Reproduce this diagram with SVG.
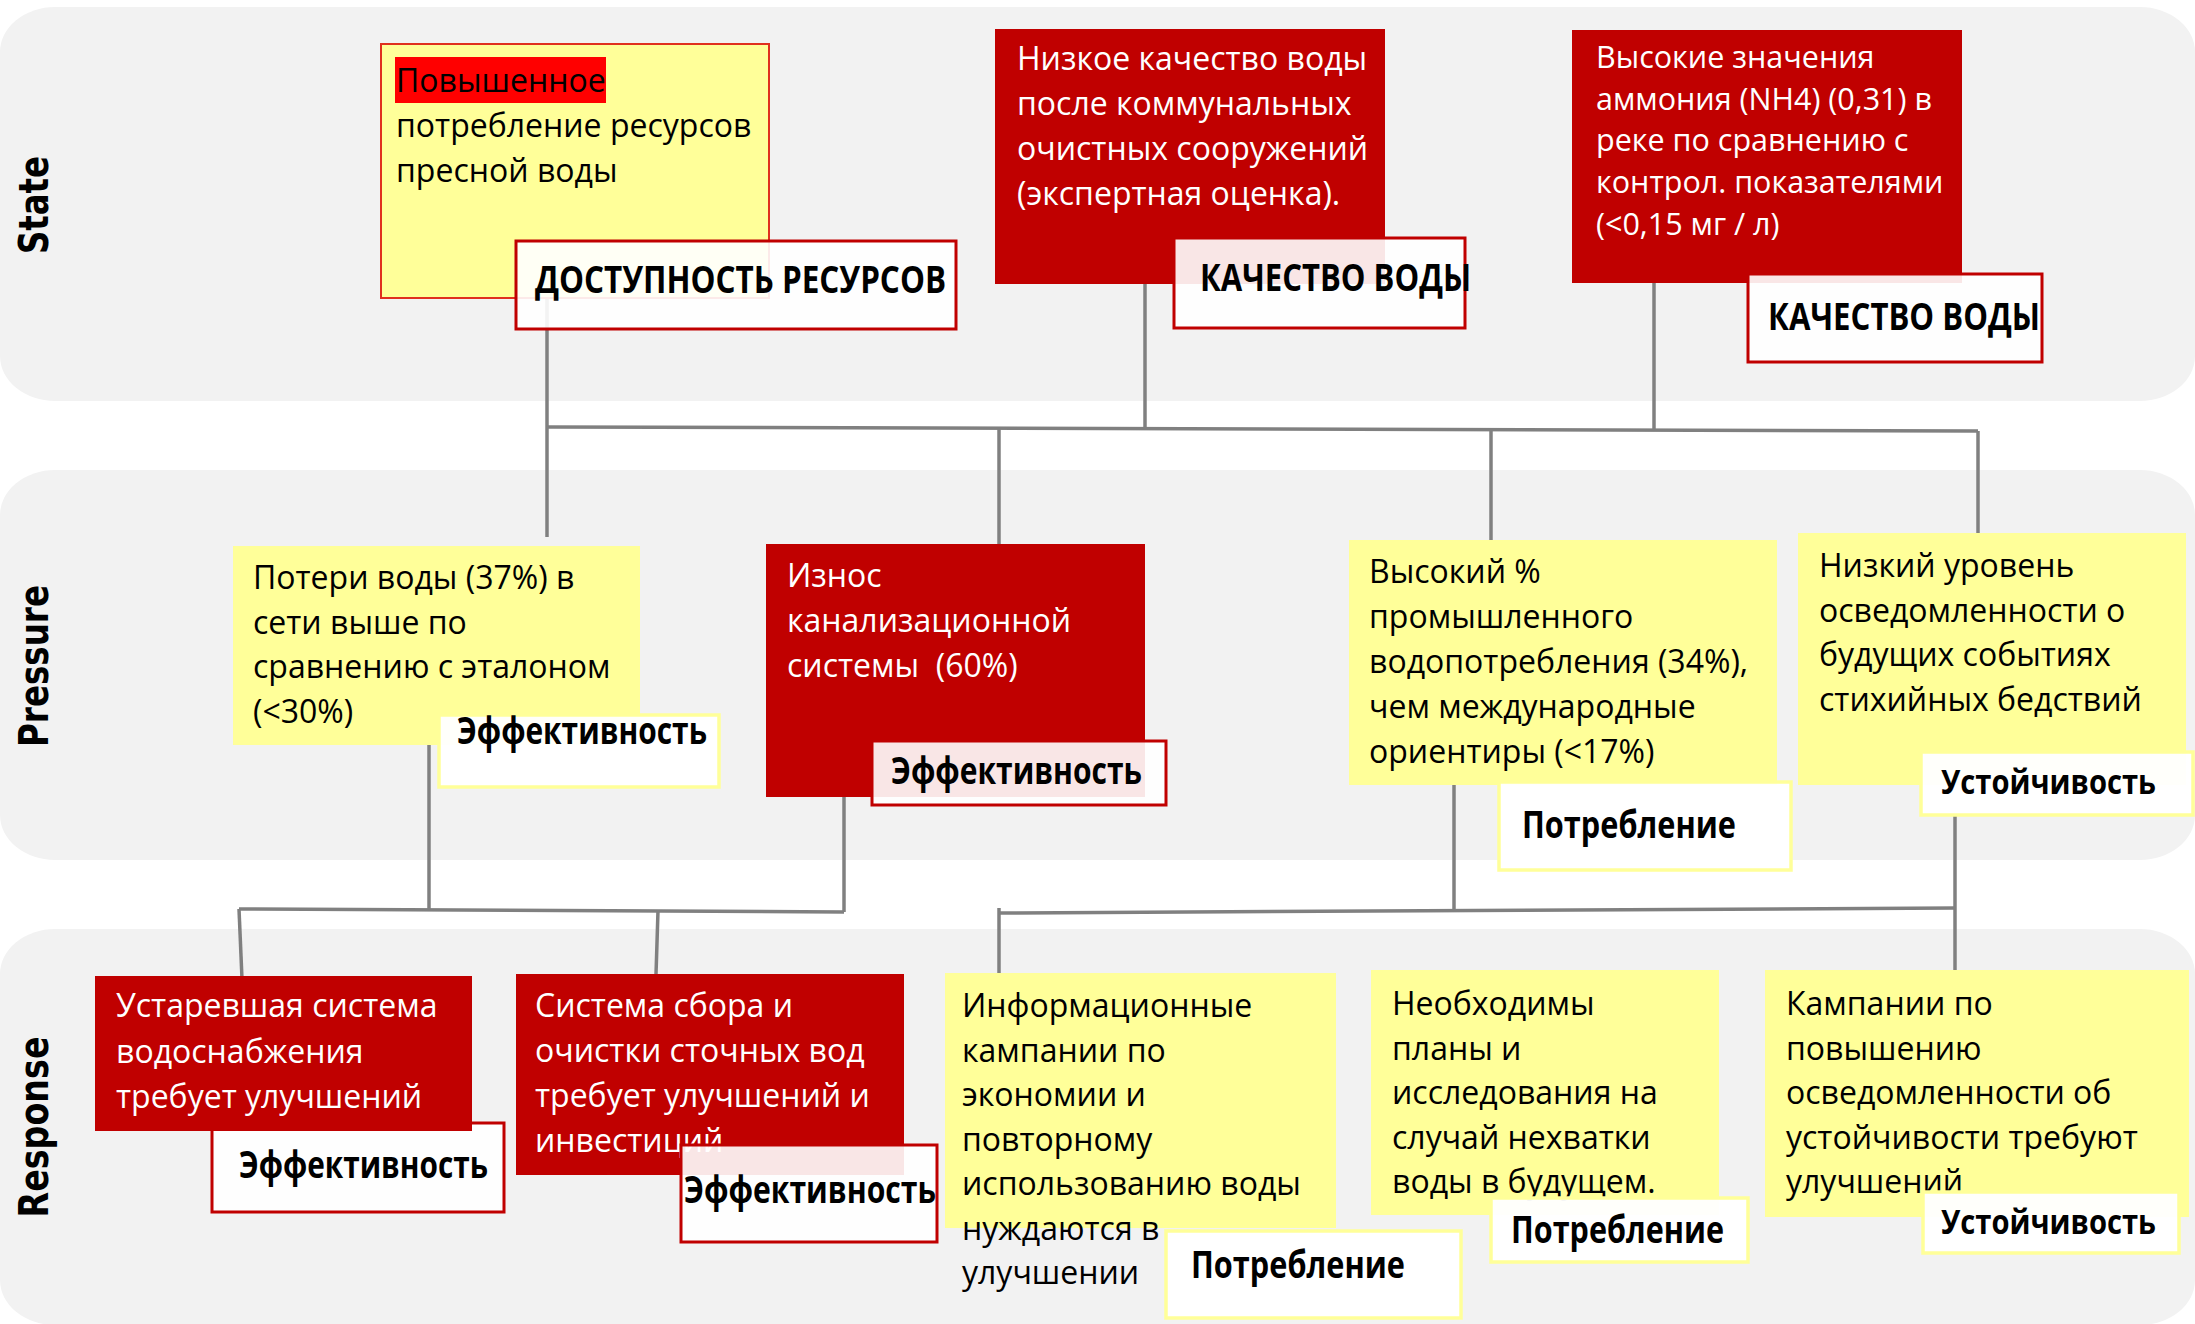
<svg xmlns="http://www.w3.org/2000/svg" width="2195" height="1324" viewBox="0 0 2195 1324">
<style>
.band{fill:#f2f2f2}
.yel{fill:#ffff99}
.red{fill:#c00000}
.lr{fill:#ffffff;fill-opacity:0.9;stroke:#c00000;stroke-width:3}
.ly{fill:#ffffff;fill-opacity:0.96;stroke:#ffff99;stroke-width:3.5}
.t{font-family:'Open Sans','Noto Sans',sans-serif;font-size:32px}
.tw{fill:#ffffff}
.tk{fill:#000000}
.lt{font-family:'Open Sans','Noto Sans',sans-serif;font-size:37px;font-weight:700;fill:#000000}
.lts{font-size:34px}
.side{font-family:'DejaVu Sans',Verdana,sans-serif;font-weight:700;font-size:41px;fill:#000000}
.con{stroke:#808080;stroke-width:3.5;fill:none}
</style>
<rect width="2195" height="1324" fill="#ffffff"/>
<g id="bands">
<rect class="band" x="0" y="7" width="2195" height="394" rx="55" ry="45"/>
<rect class="band" x="0" y="470" width="2195" height="390" rx="55" ry="45"/>
<rect class="band" x="0" y="929" width="2195" height="396" rx="55" ry="45"/>
<text class="side" transform="translate(48,205) rotate(-90)" text-anchor="middle" textLength="98" lengthAdjust="spacingAndGlyphs">State</text>
<text class="side" transform="translate(48,666) rotate(-90)" text-anchor="middle" textLength="162" lengthAdjust="spacingAndGlyphs">Pressure</text>
<text class="side" transform="translate(48,1127) rotate(-90)" text-anchor="middle" textLength="181" lengthAdjust="spacingAndGlyphs">Response</text>
</g>
<g id="connectors" class="con">
<path d="M547 298 V427"/>
<path d="M1145 284 V428"/>
<path d="M1654 283 V430"/>
<path d="M547 427 L1978 431"/>
<path d="M547 427 V537"/>
<path d="M999 428 V544"/>
<path d="M1491 429 V545"/>
<path d="M1978 431 V533"/>
<path d="M429 745 V910"/>
<path d="M844 797 V912"/>
<path d="M239 909 L844 912"/>
<path d="M239 909 L242 979"/>
<path d="M658 911 L656 974"/>
<path d="M1454 785 V910"/>
<path d="M1955 815 V986"/>
<path d="M999 913 L1955 908"/>
<path d="M999 908 V973"/>
</g>
<g id="s1">
<rect class="yel" x="381" y="44" width="388" height="254" stroke="#e0301e" stroke-width="2"/>
<rect x="395" y="57" width="211" height="46" fill="#ff0000"/>
<text class="t tk" x="396" y="92">Повышенное<tspan x="396" dy="45">потребление ресурсов</tspan><tspan x="396" dy="45">пресной воды</tspan></text>
<rect class="lr" x="516" y="241" width="440" height="88"/>
<text class="lt" x="535" y="293" textLength="411" lengthAdjust="spacingAndGlyphs">ДОСТУПНОСТЬ РЕСУРСОВ</text>
</g>
<g id="s2">
<rect class="red" x="995" y="29" width="390" height="255"/>
<text class="t tw" x="1017" y="70">Низкое качество воды<tspan x="1017" dy="45">после коммунальных</tspan><tspan x="1017" dy="45">очистных сооружений</tspan><tspan x="1017" dy="45">(экспертная оценка).</tspan></text>
<rect class="lr" x="1174" y="238" width="291" height="90"/>
<text class="lt" x="1200" y="291" textLength="271" lengthAdjust="spacingAndGlyphs">КАЧЕСТВО ВОДЫ</text>
</g>
<g id="s3">
<rect class="red" x="1572" y="30" width="390" height="253"/>
<text class="t tw" x="1596" y="68" style="font-size:30.5px">Высокие значения<tspan x="1596" dy="41.7">аммония (NH4) (0,31) в</tspan><tspan x="1596" dy="41.7">реке по сравнению с</tspan><tspan x="1596" dy="41.7">контрол. показателями</tspan><tspan x="1596" dy="41.7">(&lt;0,15 мг / л)</tspan></text>
<rect class="lr" x="1748" y="274" width="294" height="88"/>
<text class="lt" x="1768" y="330" textLength="272" lengthAdjust="spacingAndGlyphs">КАЧЕСТВО ВОДЫ</text>
</g>
<g id="p1">
<rect class="yel" x="233" y="546" width="407" height="199"/>
<text class="t tk" x="253" y="589">Потери воды (37%) в<tspan x="253" dy="44.5">сети выше по</tspan><tspan x="253" dy="44.5">сравнению с эталоном</tspan><tspan x="253" dy="44.5">(&lt;30%)</tspan></text>
<rect class="ly" x="439" y="715" width="280" height="72"/>
<text class="lt" x="457" y="744" textLength="250" lengthAdjust="spacingAndGlyphs">Эффективность</text>
</g>
<g id="p2">
<rect class="red" x="766" y="544" width="379" height="253"/>
<text class="t tw" x="787" y="587">Износ<tspan x="787" dy="45">канализационной</tspan><tspan x="787" dy="45">системы&#160; (60%)</tspan></text>
<rect class="lr" x="872" y="741" width="294" height="64"/>
<text class="lt" x="891" y="784" textLength="251" lengthAdjust="spacingAndGlyphs">Эффективность</text>
</g>
<g id="p3">
<rect class="yel" x="1349" y="540" width="428" height="245"/>
<text class="t tk" x="1369" y="583">Высокий %<tspan x="1369" dy="45">промышленного</tspan><tspan x="1369" dy="45">водопотребления (34%),</tspan><tspan x="1369" dy="45">чем международные</tspan><tspan x="1369" dy="45">ориентиры (&lt;17%)</tspan></text>
<rect class="ly" x="1499" y="782" width="292" height="88"/>
<text class="lt" x="1522" y="838" textLength="214" lengthAdjust="spacingAndGlyphs">Потребление</text>
</g>
<g id="p4">
<rect class="yel" x="1798" y="533" width="388" height="252"/>
<text class="t tk" x="1819" y="577">Низкий уровень<tspan x="1819" dy="44.5">осведомленности о</tspan><tspan x="1819" dy="44.5">будущих событиях</tspan><tspan x="1819" dy="44.5">стихийных бедствий</tspan></text>
<rect class="ly" x="1921" y="752" width="272" height="63"/>
<text class="lt lts" x="1941" y="794" textLength="215" lengthAdjust="spacingAndGlyphs">Устойчивость</text>
</g>
<g id="r1">
<rect class="lr" x="212" y="1123" width="292" height="89"/>
<text class="lt" x="239" y="1178" textLength="249" lengthAdjust="spacingAndGlyphs">Эффективность</text>
<rect class="red" x="95" y="976" width="377" height="155"/>
<text class="t tw" x="116" y="1017">Устаревшая система<tspan x="116" dy="45.5">водоснабжения</tspan><tspan x="116" dy="45.5">требует улучшений</tspan></text>
</g>
<g id="r2">
<rect class="red" x="516" y="974" width="388" height="201"/>
<text class="t tw" x="535" y="1017">Система сбора и<tspan x="535" dy="45">очистки сточных вод</tspan><tspan x="535" dy="45">требует улучшений и</tspan><tspan x="535" dy="45">инвестиций</tspan></text>
<rect class="lr" x="681" y="1145" width="256" height="97"/>
<text class="lt" x="684" y="1203" textLength="252" lengthAdjust="spacingAndGlyphs">Эффективность</text>
</g>
<g id="r3">
<rect class="yel" x="945" y="973" width="391" height="255"/>
<text class="t tk" x="962" y="1017">Информационные<tspan x="962" dy="44.5">кампании по</tspan><tspan x="962" dy="44.5">экономии и</tspan><tspan x="962" dy="44.5">повторному</tspan><tspan x="962" dy="44.5">использованию воды</tspan><tspan x="962" dy="44.5">нуждаются в</tspan><tspan x="962" dy="44.5">улучшении</tspan></text>
<rect class="ly" x="1166" y="1231" width="295" height="87"/>
<text class="lt" x="1191" y="1278" textLength="214" lengthAdjust="spacingAndGlyphs">Потребление</text>
</g>
<g id="r4">
<rect class="yel" x="1371" y="970" width="348" height="245"/>
<text class="t tk" x="1392" y="1015">Необходимы<tspan x="1392" dy="44.5">планы и</tspan><tspan x="1392" dy="44.5">исследования на</tspan><tspan x="1392" dy="44.5">случай нехватки</tspan><tspan x="1392" dy="44.5">воды в будущем.</tspan></text>
<rect class="ly" x="1491" y="1198" width="257" height="64"/>
<text class="lt" x="1511" y="1243" textLength="213" lengthAdjust="spacingAndGlyphs">Потребление</text>
</g>
<g id="r5">
<rect class="yel" x="1765" y="970" width="424" height="247"/>
<text class="t tk" x="1786" y="1015">Кампании по<tspan x="1786" dy="44.5">повышению</tspan><tspan x="1786" dy="44.5">осведомленности об</tspan><tspan x="1786" dy="44.5">устойчивости требуют</tspan><tspan x="1786" dy="44.5">улучшений</tspan></text>
<rect class="ly" x="1923" y="1192" width="256" height="61"/>
<text class="lt lts" x="1941" y="1234" textLength="215" lengthAdjust="spacingAndGlyphs">Устойчивость</text>
</g>
</svg>
